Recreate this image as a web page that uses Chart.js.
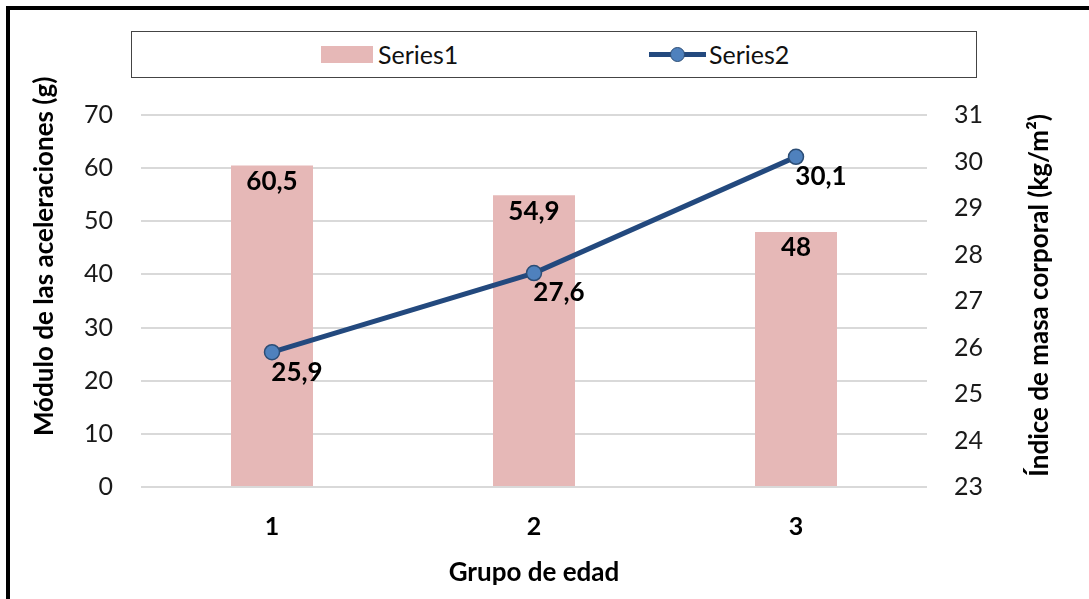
<!DOCTYPE html>
<html lang="es">
<head>
<meta charset="UTF-8">
<title>Grupo de edad</title>
<script src="https://cdn.jsdelivr.net/npm/chart.js"></script>
<style>
  * { margin: 0; padding: 0; box-sizing: border-box; }
  body { background: #fff; width: 1089px; height: 599px; overflow: hidden; font-family: Lato, sans-serif; }
  #wrap { position: relative; width: 1089px; height: 599px; }
  #chart { position: absolute; left: 0; top: 0; }
  /* marco negro (solo arriba e izquierda visibles) */
  .frame { position: absolute; left: 6px; top: 6px; width: 1200px; height: 700px;
           border-top: 4px solid #000; border-left: 4px solid #000; pointer-events: none; }
  .legend { position: absolute; left: 131px; top: 31px; width: 846px; height: 47px;
            border: 1.5px solid #444; background: #fff; }
  .legend .item { position: absolute; top: 0; height: 44px; display: flex; align-items: center;
                  font-size: 25px; color: #111; }
  .swatch-bar { width: 52px; height: 17px; background: #e6b8b7; margin-right: 5px; }
  .swatch-line { position: relative; width: 57px; height: 17px; margin-right: 3px; }
  .swatch-line::before { content: ""; position: absolute; left: 0; right: 0; top: 6px; height: 5px; background: #23497e; }
  .swatch-line::after { content: ""; position: absolute; left: 21px; top: 1px; width: 15px; height: 15px;
                        border-radius: 50%; background: #4f81bd; border: 1.5px solid #2c4d75; box-sizing: border-box; }
</style>
</head>
<body>
<div id="wrap">
  <canvas id="chart" width="1089" height="599"></canvas>
  <div class="frame"></div>
  <div class="legend">
    <div class="item" style="left:189px"><span class="swatch-bar"></span>Series1</div>
    <div class="item" style="left:517px"><span class="swatch-line"></span>Series2</div>
  </div>
</div>

<script>
// datos
const grupos = ['1', '2', '3'];
const aceleraciones = [60.5, 54.9, 48];   // Series1 (eje izq., g)
const imc = [25.9, 27.6, 30.1];           // Series2 (eje der., kg/m²)

const fmt = v => String(v).replace('.', ',');

// etiquetas de datos + títulos de los ejes verticales
const labelPlugin = {
  id: 'etiquetas',
  afterDatasetsDraw(chart) {
    const ctx = chart.ctx;
    ctx.save();
    ctx.fillStyle = '#000';
    ctx.font = 'bold 26px Lato';
    ctx.textAlign = 'center';
    ctx.textBaseline = 'middle';
    chart.getDatasetMeta(1).data.forEach((el, i) => {
      ctx.fillText(fmt(aceleraciones[i]), el.x, el.y + 16);
    });
    chart.getDatasetMeta(0).data.forEach((el, i) => {
      ctx.fillText(fmt(imc[i]), el.x + 25, el.y + 20);
    });
    ctx.restore();
  },
  afterDraw(chart) {
    const ctx = chart.ctx, a = chart.chartArea;
    ctx.save();
    ctx.fillStyle = '#000';
    ctx.font = 'bold 26px Lato';
    ctx.textAlign = 'center';
    ctx.textBaseline = 'middle';
    ctx.translate(a.left - 96, a.top + (a.bottom - a.top) * 0.38);
    ctx.rotate(-Math.PI / 2);
    ctx.fillText('Módulo de las aceleraciones (g)', 0, 0);
    ctx.restore();
    ctx.save();
    ctx.fillStyle = '#000';
    ctx.font = 'bold 26px Lato';
    ctx.textAlign = 'center';
    ctx.textBaseline = 'middle';
    ctx.translate(a.right + 113, a.top + (a.bottom - a.top) * 0.485);
    ctx.rotate(-Math.PI / 2);
    ctx.fillText('Índice de masa corporal (kg/m²)', 0, 0);
    ctx.restore();
  }
};

new Chart(document.getElementById('chart'), {
  data: {
    labels: grupos,
    datasets: [
      {
        type: 'line',
        label: 'Series2',
        data: imc,
        yAxisID: 'y1',
        borderColor: '#23497e',
        borderWidth: 5,
        pointRadius: 7.5,
        pointBackgroundColor: '#4f81bd',
        pointBorderColor: '#2c4d75',
        pointBorderWidth: 1.5,
        tension: 0,
        order: 0
      },
      {
        type: 'bar',
        label: 'Series1',
        data: aceleraciones,
        yAxisID: 'y',
        backgroundColor: '#e6b8b7',
        categoryPercentage: 1,
        barPercentage: 0.313,
        order: 1
      }
    ]
  },
  options: {
    responsive: false,
    animation: false,
    layout: { padding: { top: 115, left: 0, right: 0, bottom: 0 } },
    plugins: { legend: { display: false }, tooltip: { enabled: false } },
    scales: {
      x: {
        grid: { display: false },
        border: { display: false },
        ticks: { color: '#000', font: { family: 'Lato', size: 25, weight: 'bold' }, padding: 17 },
        title: { display: true, text: 'Grupo de edad', color: '#000',
                 font: { family: 'Lato', size: 26, weight: 'bold' }, padding: { top: 0, bottom: 11 } },
        afterFit(s) { s.height = 112; }
      },
      y: {
        position: 'left',
        min: 0, max: 70,
        ticks: { stepSize: 10, color: '#1a1a1a', font: { family: 'Lato', size: 25 }, padding: 28 },
        grid: { color: '#d9d9d9', lineWidth: 2, drawTicks: false },
        border: { display: false },
        afterFit(s) { s.width = 141; }
      },
      y1: {
        position: 'right',
        min: 23, max: 31,
        ticks: { stepSize: 1, color: '#1a1a1a', font: { family: 'Lato', size: 25 }, padding: 27 },
        grid: { drawOnChartArea: false, drawTicks: false },
        border: { display: false },
        afterFit(s) { s.width = 162; }
      }
    }
  },
  plugins: [labelPlugin]
});
</script>
</body>
</html>
